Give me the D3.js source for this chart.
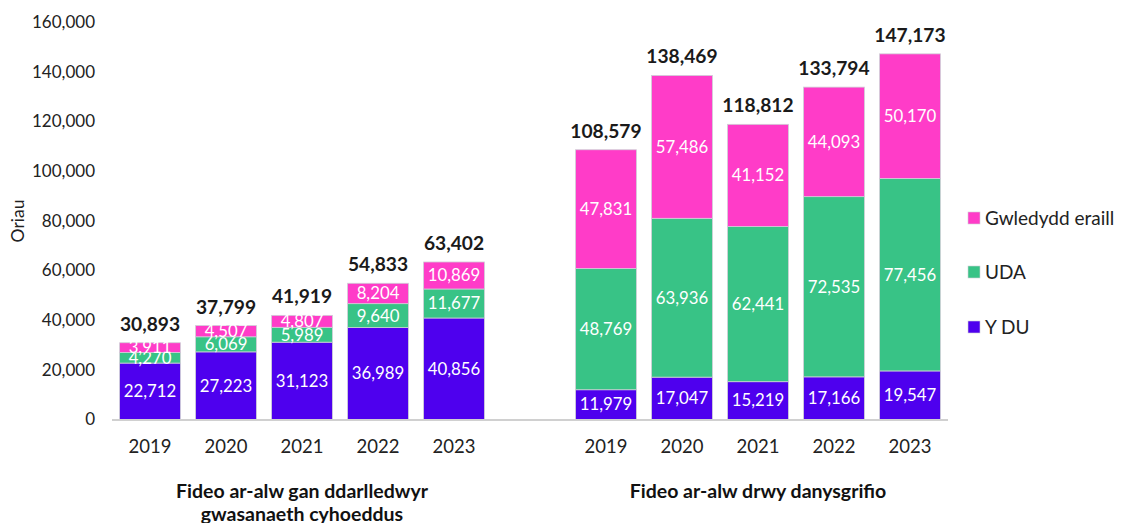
<!DOCTYPE html>
<html>
<head>
<meta charset="utf-8">
<script src="https://cdn.jsdelivr.net/npm/d3@7"></script>
<style>
  html, body { margin: 0; padding: 0; background: #ffffff; }
  svg { display: block; }
  text { font-family: Lato, "Open Sans", sans-serif; }
</style>
</head>
<body>
<svg id="chart" width="1125" height="523"></svg>
<script>
// ---- Data ----
const groupLines = [["Fideo ar-alw gan ddarlledwyr", "gwasanaeth cyhoeddus"], ["Fideo ar-alw drwy danysgrifio"]];
const years = ["2019", "2020", "2021", "2022", "2023"];
const seriesNames = ["Y DU", "UDA", "Gwledydd eraill"];
const seriesColors = ["#4E00EE", "#38C386", "#FF3CC8"];

// PSB on-demand (Y DU, UDA, Gwledydd eraill)
const psbYDU = [22712, 27223, 31123, 36989, 40856];
const psbUDA = [4270, 6069, 5989, 9640, 11677];
const psbOther = [3911, 4507, 4807, 8204, 10869];
// SVoD
const svodYDU = [11979, 17047, 15219, 17166, 19547];
const svodUDA = [48769, 63936, 62441, 72535, 77456];
const svodOther = [47831, 57486, 41152, 44093, 50170];

const yTicks = [0, 20000, 40000, 60000, 80000, 100000, 120000, 140000, 160000];
const yTitle = "Oriau";

// ---- Build rows ----
const rows = [];
years.forEach((yr, i) => rows.push({ key: "g0-" + yr, year: yr, vals: [psbYDU[i], psbUDA[i], psbOther[i]] }));
years.forEach((yr, i) => rows.push({ key: "g1-" + yr, year: yr, vals: [svodYDU[i], svodUDA[i], svodOther[i]] }));
const slotKeys = [...years.map(y => "g0-" + y), "gap", ...years.map(y => "g1-" + y)];

const svg = d3.select("#chart");
const fmt = d3.format(",");

const x = d3.scaleBand().domain(slotKeys).range([112, 948]).paddingInner(0.2).paddingOuter(0.1);
const y = d3.scaleLinear().domain([0, 160000]).range([419.5, 22]);

// Y axis labels
const yAxis = svg.append("g").attr("transform", "translate(95,0)")
  .call(d3.axisLeft(y).tickValues(yTicks).tickFormat(fmt).tickSize(0).tickPadding(0));
yAxis.select(".domain").remove();
yAxis.selectAll("text").attr("font-family", "Lato, 'Open Sans', sans-serif").attr("font-size", 17).attr("fill", "#222");

// Y title
svg.append("text").attr("transform", "translate(24,221) rotate(-90)")
  .attr("text-anchor", "middle").attr("font-size", 17.5).attr("fill", "#222").text(yTitle);

// Stack
const stack = d3.stack().keys([0, 1, 2]).value((d, k) => d.vals[k]);
const stacked = stack(rows);

const layers = svg.append("g").selectAll("g").data(stacked).join("g")
  .attr("fill", (d, i) => seriesColors[i]);

layers.selectAll("rect").data(d => d).join("rect")
  .attr("x", d => x(d.data.key))
  .attr("width", x.bandwidth())
  .attr("y", d => y(d[1]))
  .attr("height", d => y(d[0]) - y(d[1]))
  .attr("stroke", "#cfcfd6").attr("stroke-width", 0.8);

// Segment labels
layers.each(function (layer, li) {
  d3.select(this).selectAll("text").data(layer).join("text")
    .attr("x", d => x(d.data.key) + x.bandwidth() / 2)
    .attr("y", d => (y(d[0]) + y(d[1])) / 2)
    .attr("dy", "0.35em")
    .attr("text-anchor", "middle")
    .attr("font-size", 16.8)
    .attr("fill", "#ffffff")
    .text(d => fmt(d.data.vals[li]));
});

// Totals
svg.append("g").selectAll("text").data(rows).join("text")
  .attr("x", d => x(d.key) + x.bandwidth() / 2)
  .attr("y", d => y(d3.sum(d.vals)) - 12)
  .attr("text-anchor", "middle")
  .attr("font-size", 19.2).attr("font-weight", "bold").attr("fill", "#1a1a1a")
  .text(d => fmt(d3.sum(d.vals)));

// Baseline
svg.append("line").attr("x1", 112).attr("x2", 948).attr("y1", y(0) + 0.5).attr("y2", y(0) + 0.5)
  .attr("stroke", "#d0d0d0").attr("stroke-width", 2);

// Year labels
svg.append("g").selectAll("text").data(rows).join("text")
  .attr("x", d => x(d.key) + x.bandwidth() / 2)
  .attr("y", 453)
  .attr("text-anchor", "middle").attr("font-size", 18.5).attr("fill", "#222")
  .text(d => d.year);

// Group labels
groupLines.forEach((lines, gi) => {
  const keys = years.map(yr => "g" + gi + "-" + yr);
  const x0 = x(keys[0]) - x.step() * x.paddingInner() / 2;
  const x1 = x(keys[keys.length - 1]) + x.bandwidth() + x.step() * x.paddingInner() / 2;
  const cx = (x0 + x1) / 2;
  lines.forEach((ln, li) => {
    svg.append("text").attr("x", cx).attr("y", 498 + li * 23)
      .attr("text-anchor", "middle").attr("font-size", 19.5).attr("font-weight", "bold").attr("fill", "#111")
      .text(ln);
  });
});

// Legend
const legendOrder = [2, 1, 0];
const legendY = [218, 272, 327];
legendOrder.forEach((si, i) => {
  svg.append("rect").attr("x", 968).attr("y", legendY[i] - 6).attr("width", 12).attr("height", 12)
    .attr("fill", seriesColors[si]).attr("stroke", "#cfcfd6").attr("stroke-width", 0.6);
  svg.append("text").attr("x", 985).attr("y", legendY[i]).attr("dy", "0.35em")
    .attr("font-size", 19).attr("fill", "#222").text(seriesNames[si]);
});
</script>
</body>
</html>
